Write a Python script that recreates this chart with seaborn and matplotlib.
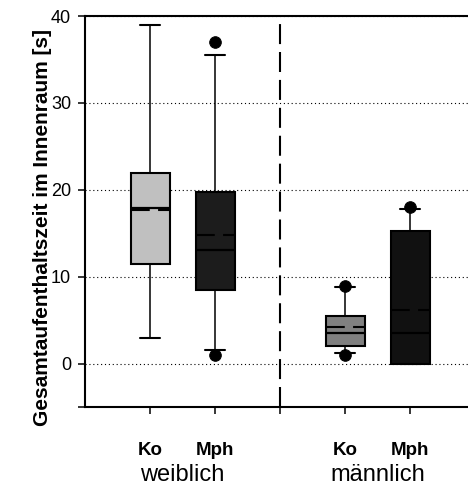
import pandas as pd
import seaborn as sns
import matplotlib.pyplot as plt
from matplotlib.transforms import blended_transform_factory

# values (seconds)
groups = ["weiblich", "männlich"]
treatments = ["Ko", "Mph", "Ko", "Mph"]
positions = [1, 2, 4, 5]
box_colors = ["#c0c0c0", "#1c1c1c", "#808080", "#111111"]

whisker_low = [3.0, 1.6, 1.2, 0.0]
q1 = [11.5, 8.5, 2.0, 0.0]
median = [17.9, 13.1, 3.5, 3.5]
q3 = [22.0, 19.8, 5.5, 15.3]
whisker_high = [39.0, 35.5, 8.8, 17.8]
means = [17.7, 14.8, 4.2, 6.2]

flier_pos = [2, 2, 4, 4, 5]
flier_val = [37.0, 1.0, 9.0, 1.0, 18.0]

yticks = [0, 10, 20, 30, 40]
ylabel = "Gesamtaufenthaltszeit im Innenraum [s]"

# five-number summaries -> long table, whiskers at min/max
rows = []
for i, p in enumerate(positions):
    key = f"{p}_{treatments[i]}"
    for v in [whisker_low[i], q1[i], median[i], q3[i], whisker_high[i]]:
        rows.append({"pos": p, "value": v, "box": key})
df = pd.DataFrame(rows)
keys = [f"{p}_{t}" for p, t in zip(positions, treatments)]
pal = dict(zip(keys, box_colors))

sns.set_style("white")
plt.rcParams["font.family"] = ["Liberation Sans", "DejaVu Sans"]
plt.rcParams.update({"text.color": "black", "axes.labelcolor": "black",
                     "xtick.color": "black", "ytick.color": "black"})

fig = plt.figure(figsize=(4.68, 4.86), dpi=100)
ax = fig.add_axes([85 / 468, 1 - 407.3 / 486, 390 / 468, (407.3 - 16) / 486])

sns.boxplot(data=df, x="pos", y="value", hue="box", palette=pal,
            native_scale=True, dodge=False, width=0.6, whis=(0, 100),
            saturation=1, linecolor="black", linewidth=1.1,
            showfliers=False, legend=False, ax=ax,
            boxprops={"linewidth": 1.5},
            medianprops={"color": "black", "linewidth": 1.6},
            whiskerprops={"linewidth": 1.1},
            capprops={"linewidth": 1.5})

# means as dashed lines across the box
for p, m in zip(positions, means):
    ax.hlines(m, p - 0.3, p + 0.3, colors="black", linewidth=1.5,
              linestyles=(0, (9, 4)), zorder=5)

sns.scatterplot(x=flier_pos, y=flier_val, color="black", s=70,
                edgecolor="black", zorder=6, ax=ax)

ax.axvline(3, color="black", linewidth=1.5, linestyle=(0, (9.6, 3.8)), zorder=4)

ax.set_xlim(0, 6)
ax.set_ylim(-5, 40)
ax.set_yticks([-5] + yticks, [""] + [str(t) for t in yticks])
ax.set_xticks([1, 2, 3, 4, 5], [""] * 5)
ax.yaxis.grid(True, color="black", linestyle=(0, (1, 2.5)), linewidth=0.8)
ax.set_axisbelow(True)
ax.set_xlabel("")
ax.set_ylabel("")
ax.tick_params(axis="y", direction="out", length=5, width=1.1, pad=5,
               labelsize=13, left=True, right=False)
ax.tick_params(axis="x", direction="out", length=5, width=1.1, bottom=True)
for side in ["left", "top", "bottom"]:
    ax.spines[side].set_linewidth(1.5)
    ax.spines[side].set_color("black")
ax.spines["right"].set_visible(False)

trans = blended_transform_factory(ax.transData, fig.transFigure)
for p, t in zip(positions, treatments):
    ax.text(p, 1 - 455 / 486, t, transform=trans, ha="center",
            va="baseline", fontsize=13.5, fontweight="bold")
for g, pair in zip(groups, [positions[:2], positions[2:]]):
    ax.text(sum(pair) / 2, 1 - 481 / 486, g, transform=trans, ha="center",
            va="baseline", fontsize=17)

fig.text(43 / 468, 1 - 227.5 / 486, ylabel, rotation=90, ha="center",
         va="center", fontsize=15, fontweight="bold")

fig.savefig("out.png", dpi=100)
